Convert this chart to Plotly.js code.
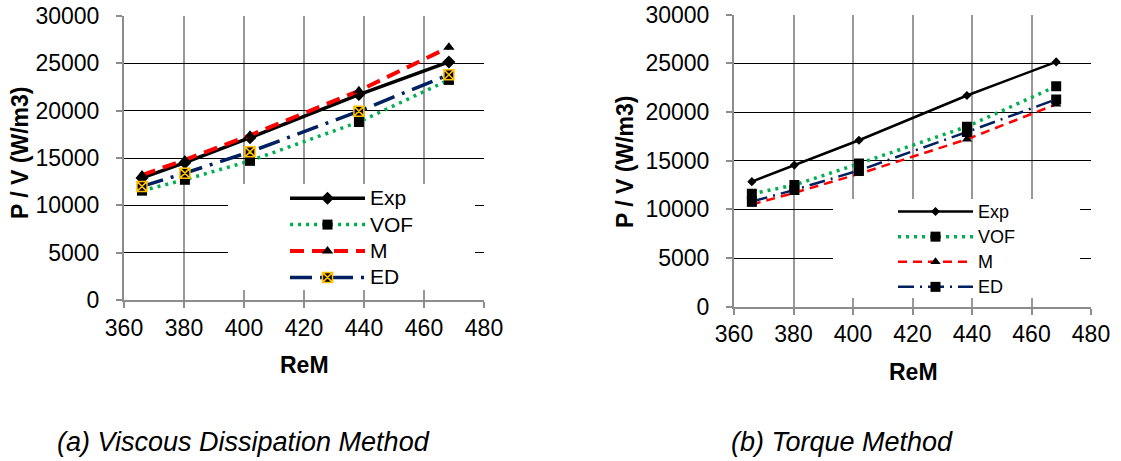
<!DOCTYPE html>
<html>
<head>
<meta charset="utf-8">
<script src="https://cdn.plot.ly/plotly-3.0.1.min.js"></script>
<style>
  html, body { margin: 0; padding: 0; background: #fff; }
  #chart { width: 1121px; height: 461px; }
</style>
</head>
<body>
<div id="chart"></div>
<script>
// ---- data ----
const ReM = [366, 380.3, 402, 438.3, 468.3];
const seriesNames = ["Exp", "VOF", "M", "ED"];

// (a) Viscous Dissipation Method
const expA = [12900, 14500, 17150, 21700, 25150];
const vofA = [11550, 12700, 14700, 18800, 23250];
const mA   = [13200, 14800, 17400, 22100, 26700];
const edA  = [12000, 13400, 15650, 19950, 23800];

// (b) Torque Method
const expB = [12850, 14550, 17100, 21700, 25150];
const vofB = [11600, 12500, 14700, 18500, 22650];
const mB   = [10500, 11700, 13650, 17200, 20800];
const edB  = [10800, 12000, 14000, 17950, 21300];

const xTicks = [360, 380, 400, 420, 440, 460, 480];
const yTicks = [0, 5000, 10000, 15000, 20000, 25000, 30000];
const captionA = "(a) Viscous Dissipation Method";
const captionB = "(b) Torque Method";
const xTitle = "ReM";
const yTitle = "P / V (W/m3)";

// ---- styling ----
const FONT = "Liberation Sans, Arial, sans-serif";
const W = 1121, H = 461;
const px = v => v / W;
const py = v => 1 - v / H;

const GREEN = "#00B050", RED = "#FF0000", NAVY = "#002060", ORANGE = "#FFC000";
const legName = (s, size) => '<span style="font-size:' + size + 'px">' + s + '</span>';

const traces = [
  // left chart
  {x: ReM, y: expA, name: legName(seriesNames[0], 21), xaxis: "x", yaxis: "y", legend: "legend",
   mode: "lines+markers", line: {color: "#000", width: 3.5},
   marker: {symbol: "diamond", size: 10, color: "#000"}},
  {x: ReM, y: vofA, name: legName(seriesNames[1], 21), xaxis: "x", yaxis: "y", legend: "legend",
   mode: "lines+markers", line: {color: GREEN, width: 3.5, dash: "3px,5px"},
   marker: {symbol: "square", size: 10, color: "#000"}},
  {x: ReM, y: mA, name: legName(seriesNames[2], 21), xaxis: "x", yaxis: "y", legend: "legend",
   mode: "lines+markers", line: {color: RED, width: 4, dash: "14px,8px"},
   marker: {symbol: "triangle-up", size: 10, color: "#000"}},
  {x: ReM, y: edA, name: legName(seriesNames[3], 21), xaxis: "x", yaxis: "y", legend: "legend",
   mode: "lines+markers", line: {color: NAVY, width: 3.5, dash: "22px,8px,3px,8px"},
   marker: {symbol: "square-x", size: 10, color: "#000", line: {color: ORANGE, width: 1.5}}},
  // right chart
  {x: ReM, y: expB, name: legName(seriesNames[0], 18), xaxis: "x2", yaxis: "y2", legend: "legend2",
   mode: "lines+markers", line: {color: "#000", width: 2.5},
   marker: {symbol: "diamond", size: 7, color: "#000"}},
  {x: ReM, y: vofB, name: legName(seriesNames[1], 18), xaxis: "x2", yaxis: "y2", legend: "legend2",
   mode: "lines+markers", line: {color: GREEN, width: 3.5, dash: "3px,5px"},
   marker: {symbol: "square", size: 10, color: "#000"}},
  {x: ReM, y: mB, name: legName(seriesNames[2], 18), xaxis: "x2", yaxis: "y2", legend: "legend2",
   mode: "lines+markers", line: {color: RED, width: 2.5, dash: "9px,6px"},
   marker: {symbol: "triangle-up", size: 9, color: "#000"}},
  {x: ReM, y: edB, name: legName(seriesNames[3], 18), xaxis: "x2", yaxis: "y2", legend: "legend2",
   mode: "lines+markers", line: {color: NAVY, width: 2.5, dash: "16px,6px,2px,6px"},
   marker: {symbol: "square", size: 10, color: "#000"}}
];

function xaxis(domain, anchor) {
  return {
    domain: domain, range: [360, 480], tickvals: xTicks, ticktext: xTicks.map(String),
    showgrid: true, gridcolor: "#999999", gridwidth: 2,
    showline: true, linecolor: "#8c8c8c", linewidth: 2,
    ticks: "outside", ticklen: 6, tickcolor: "#8c8c8c", tickwidth: 2,
    zeroline: false, automargin: false, anchor: anchor,
    tickfont: {family: FONT, size: 23, color: "#000"}
  };
}
function yaxis(domain, anchor) {
  return {
    domain: domain, range: [0, 30000], tickvals: yTicks, ticktext: yTicks.map(String),
    showgrid: true, gridcolor: "#000000", gridwidth: 1,
    showline: true, linecolor: "#8c8c8c", linewidth: 2,
    ticks: "outside", ticklen: 6, tickcolor: "#8c8c8c", tickwidth: 2,
    zeroline: false, automargin: false, anchor: anchor, ticklabelstandoff: 12,
    tickfont: {family: FONT, size: 23, color: "#000"}
  };
}

const layout = {
  width: W, height: H,
  margin: {l: 0, r: 0, t: 0, b: 0},
  paper_bgcolor: "#fff", plot_bgcolor: "#fff",
  font: {family: FONT, color: "#000"},
  showlegend: true,
  xaxis: xaxis([px(124), px(484)], "y"),
  yaxis: yaxis([py(300), py(16)], "x"),
  xaxis2: xaxis([px(734), px(1091)], "y2"),
  yaxis2: yaxis([py(306.7), py(14.7)], "x2"),
  legend: {
    x: px(285), y: py(180), xanchor: "left", yanchor: "top",
    bgcolor: "rgba(0,0,0,0)", borderwidth: 0, itemwidth: 75,
    font: {family: FONT, size: 18, color: "#000"}, tracegroupgap: 0
  },
  legend2: {
    x: px(893), y: py(194), xanchor: "left", yanchor: "top",
    bgcolor: "rgba(0,0,0,0)", borderwidth: 0, itemwidth: 75,
    font: {family: FONT, size: 17, color: "#000"}, tracegroupgap: 0
  },
  shapes: [
    {type: "rect", xref: "paper", yref: "paper", x0: px(228), x1: px(475), y0: py(290), y1: py(184),
     fillcolor: "#fff", line: {width: 0}, layer: "above"},
    {type: "rect", xref: "paper", yref: "paper", x0: px(833), x1: px(1080), y0: py(298), y1: py(199),
     fillcolor: "#fff", line: {width: 0}, layer: "above"}
  ],
  annotations: [
    {text: "<b>" + xTitle + "</b>", xref: "paper", yref: "paper", x: px(304), y: py(365),
     xanchor: "center", yanchor: "middle", showarrow: false, font: {family: FONT, size: 23}},
    {text: "<b>" + xTitle + "</b>", xref: "paper", yref: "paper", x: px(913), y: py(372),
     xanchor: "center", yanchor: "middle", showarrow: false, font: {family: FONT, size: 23}},
    {text: "<b>" + yTitle + "</b>", xref: "paper", yref: "paper", x: px(20), y: py(153),
     xanchor: "center", yanchor: "middle", textangle: -90, showarrow: false, font: {family: FONT, size: 23}},
    {text: "<b>" + yTitle + "</b>", xref: "paper", yref: "paper", x: px(625), y: py(162),
     xanchor: "center", yanchor: "middle", textangle: -90, showarrow: false, font: {family: FONT, size: 23}},
    {text: "<i>" + captionA + "</i>", xref: "paper", yref: "paper", x: px(243), y: py(442),
     xanchor: "center", yanchor: "middle", showarrow: false, font: {family: FONT, size: 27}},
    {text: "<i>" + captionB + "</i>", xref: "paper", yref: "paper", x: px(842), y: py(442),
     xanchor: "center", yanchor: "middle", showarrow: false, font: {family: FONT, size: 27}}
  ]
};

Plotly.newPlot("chart", traces, layout, {displayModeBar: false});
</script>
</body>
</html>
